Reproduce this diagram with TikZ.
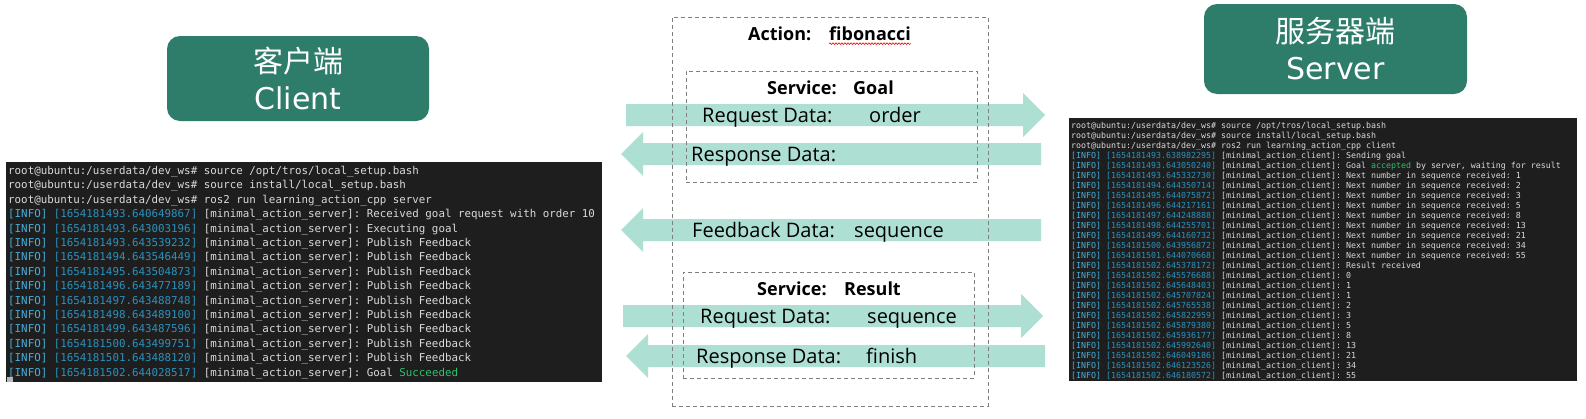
\documentclass[tikz,border=0pt]{standalone}
\usepackage{fontspec}
\setmainfont{Open Sans}
\setmonofont{DejaVu Sans Mono}
\newfontfamily\cjk{Noto Sans CJK SC}
\newfontfamily\boxfont{DejaVu Sans}
\usetikzlibrary{decorations.pathmorphing}

\definecolor{boxgreen}{HTML}{2E7D6B}
\definecolor{flowc}{HTML}{ADDFD3}
\definecolor{termbg}{HTML}{1E1E1E}
\definecolor{termtxt}{HTML}{DADADA}
\definecolor{infoblue}{HTML}{45AEDD}
\definecolor{tsblue}{HTML}{2A92BE}
\definecolor{okgreen}{HTML}{2DC26E}
\definecolor{dashgray}{HTML}{7F7F7F}
\definecolor{cursorc}{HTML}{B8B8B8}

\newcommand{\prompt}{root@ubuntu:/userdata/dev\_ws\#}

\begin{document}
\begin{tikzpicture}[x=1pt,y=-1pt,
	role/.style={fill=boxgreen,rounded corners=13pt,text=white,align=center,inner sep=0pt,font=\boxfont\fontsize{30}{37}\selectfont},
	dashbox/.style={draw=dashgray,line width=1pt,dash pattern=on 4pt off 3pt,inner sep=0pt},
	term/.style={fill=termbg,inner sep=0pt,anchor=north west},
	srvline/.style={anchor=west,inner sep=0pt,text=termtxt,font=\ttfamily\fontsize{10.83}{13}\selectfont,text height=7pt,text depth=0pt},
	cliline/.style={srvline,font=\ttfamily\fontsize{8.3}{10}\selectfont,text height=5.4pt},
	lbl/.style={anchor=west,inner sep=0pt,font=\fontsize{20}{24}\selectfont,text height=14.3pt,text depth=0pt},
	title/.style={lbl,font=\bfseries\fontsize{18}{22}\selectfont,text height=12.9pt}]
		\useasboundingbox (0,0) rectangle (1586,418);
		\fill[white] (0,0) rectangle (1586,418);

		% client and server
		\draw (298,78.5) 	node (client) [role,minimum width=262pt,minimum height=85pt] {{\cjk 客户端}\\Client};
		\draw (1335.5,49) 	node (server) [role,minimum width=263pt,minimum height=90pt] {{\cjk 服务器端}\\Server};

		% server terminal
		\draw (6,162) node (srvterm) [term,minimum width=596pt,minimum height=220pt] {};
		\draw (8,171) 		node (srvcmd1) [srvline] {\prompt{} source /opt/tros/local\_setup.bash};
		\draw (8,185.4) 	node (srvcmd2) [srvline] {\prompt{} source install/local\_setup.bash};
		\draw (8,199.8) 	node (srvcmd3) [srvline] {\prompt{} ros2 run learning\_action\_cpp server};
		\foreach \ts/\msg [count=\i from 3] in {
			1654181493.640649867/{Received goal request with order 10},
			1654181493.643003196/{Executing goal},
			1654181493.643539232/{Publish Feedback},
			1654181494.643546449/{Publish Feedback},
			1654181495.643504873/{Publish Feedback},
			1654181496.643477189/{Publish Feedback},
			1654181497.643488748/{Publish Feedback},
			1654181498.643489100/{Publish Feedback},
			1654181499.643487596/{Publish Feedback},
			1654181500.643499751/{Publish Feedback},
			1654181501.643488120/{Publish Feedback},
			1654181502.644028517/{Goal \textcolor{okgreen}{Succeeded}}}
			\draw (8,{171+14.4*\i}) node (srvlog\i) [srvline] {\textcolor{infoblue}{[INFO]} \textcolor{tsblue}{[\ts]} [minimal\_action\_server]: \msg};
		\fill[cursorc] (7,377) rectangle (13,382);

		% client terminal
		\draw (1069,118) node (cliterm) [term,minimum width=508pt,minimum height=263pt] {};
		\draw (1071,126) 	node (clicmd1) [cliline] {\prompt{} source /opt/tros/local\_setup.bash};
		\draw (1071,136) 	node (clicmd2) [cliline] {\prompt{} source install/local\_setup.bash};
		\draw (1071,146) 	node (clicmd3) [cliline] {\prompt{} ros2 run learning\_action\_cpp client};
		\foreach \ts/\msg [count=\i from 3] in {
			1654181493.638982295/{Sending goal},
			1654181493.643050240/{Goal \textcolor{okgreen}{accepted} by server, waiting for result},
			1654181493.645332730/{Next number in sequence received: 1},
			1654181494.644350714/{Next number in sequence received: 2},
			1654181495.644075872/{Next number in sequence received: 3},
			1654181496.644217161/{Next number in sequence received: 5},
			1654181497.644248888/{Next number in sequence received: 8},
			1654181498.644255701/{Next number in sequence received: 13},
			1654181499.644160732/{Next number in sequence received: 21},
			1654181500.643956872/{Next number in sequence received: 34},
			1654181501.644070668/{Next number in sequence received: 55},
			1654181502.645378172/{Result received},
			1654181502.645576688/0,
			1654181502.645648403/1,
			1654181502.645707824/1,
			1654181502.645765538/2,
			1654181502.645822959/3,
			1654181502.645879380/5,
			1654181502.645936177/8,
			1654181502.645992640/13,
			1654181502.646049186/21,
			1654181502.646123526/34,
			1654181502.646180572/55}
			\draw (1071,{126+10*\i}) node (clilog\i) [cliline] {\textcolor{infoblue}{[INFO]} \textcolor{tsblue}{[\ts]} [minimal\_action\_client]: \msg};

		% data arrows
		\foreach \y/\xa/\xb in {115/626/1045,316/623/1043}
			\fill[flowc] (\xa,{\y-11}) -- ({\xb-22},{\y-11}) -- ({\xb-22},{\y-22}) -- (\xb,\y) -- ({\xb-22},{\y+22}) -- ({\xb-22},{\y+11}) -- (\xa,{\y+11}) -- cycle;
		\foreach \y/\xa/\xb in {154/621/1041,230/621/1041,356/626/1045}
			\fill[flowc] (\xb,{\y-11}) -- ({\xa+22},{\y-11}) -- ({\xa+22},{\y-22}) -- (\xa,\y) -- ({\xa+22},{\y+22}) -- ({\xa+22},{\y+11}) -- (\xb,{\y+11}) -- cycle;

		% action and its two services
		\draw (830,211.5) 	node (action) [dashbox,minimum width=316pt,minimum height=389pt] {};
		\draw (831.5,126.5) node (goalsrv) [dashbox,minimum width=291pt,minimum height=111pt] {};
		\draw (828.5,325) 	node (resultsrv) [dashbox,minimum width=291pt,minimum height=106pt] {};

		\draw (748,34) 		node (actkey) [title] {Action:};
		\draw (829,34) 		node (actval) [title] {fibonacci};
		\draw[red,line width=0.6pt,decorate,decoration={snake,amplitude=0.8pt,segment length=3pt}] ([yshift=-3pt]actval.south west) -- ([yshift=-3pt]actval.south east);
		\draw (767,88) 		node (goalkey) [title] {Service:};
		\draw (853,88) 		node (goalval) [title] {Goal};
		\draw (702,115) 	node (goalreqkey) [lbl] {Request Data:};
		\draw (869,115) 	node (goalreqval) [lbl] {order};
		\draw (691,154) 	node (goalreskey) [lbl] {Response Data:};
		\draw (692,230) 	node (fbkey) [lbl] {Feedback Data:};
		\draw (854,230) 	node (fbval) [lbl] {sequence};
		\draw (757,289) 	node (reskey) [title] {Service:};
		\draw (844,289) 	node (resval) [title] {Result};
		\draw (700,316) 	node (resreqkey) [lbl] {Request Data:};
		\draw (867,316) 	node (resreqval) [lbl] {sequence};
		\draw (696,356) 	node (resreskey) [lbl] {Response Data:};
		\draw (866,356) 	node (resresval) [lbl] {finish};
	\end{tikzpicture}
\end{document}
